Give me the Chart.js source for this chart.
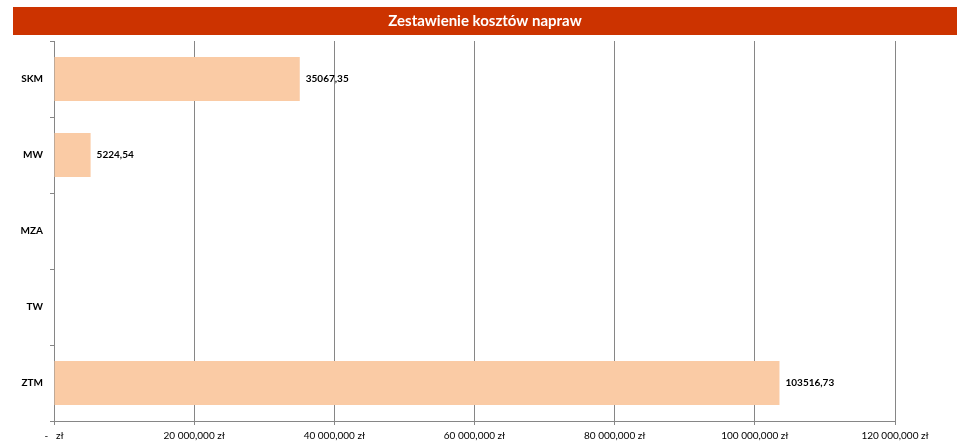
<!DOCTYPE html>
<html>
<head>
<meta charset="utf-8">
<script src="https://cdn.jsdelivr.net/npm/chart.js@4"></script>
<style>
  html, body { margin: 0; padding: 0; background: #fff; }
  #wrap { width: 957px; height: 442px; }
</style>
</head>
<body>
<div id="wrap"><canvas id="koszty"></canvas></div>
<script>
const categories = ['SKM', 'MW', 'MZA', 'TW', 'ZTM'];
const costs = [35067.35, 5224.54, 0, 0, 103516.73];
const xTicks = [0, 20000, 40000, 60000, 80000, 100000, 120000];

const font = 'Lato, "Liberation Sans", sans-serif';

const fmtTick = v => {
    if (v === 0) return '-   zł';
    return String(Math.round(v)).replace(/\B(?=(\d{3})+(?!\d))/g, ' ') + ',000 zł';
};

// red band behind the title, title centred on the band
const titleBand = {
    id: 'titleBand',
    beforeDraw(chart) {
        const tb = chart.titleBlock;
        tb.left = 13;
        tb.right = chart.width;
        const ctx = chart.ctx;
        ctx.save();
        ctx.fillStyle = '#CC3300';
        ctx.fillRect(13, tb.top + 7, chart.width - 13, 28);
        ctx.restore();
    }
};

const valueLabels = {
    id: 'valueLabels',
    afterDatasetsDraw(chart) {
        const ctx = chart.ctx;
        const meta = chart.getDatasetMeta(0);
        ctx.save();
        ctx.font = 'bold 10px ' + font;
        ctx.fillStyle = '#000';
        ctx.textAlign = 'left';
        ctx.textBaseline = 'middle';
        meta.data.forEach((bar, i) => {
            const v = costs[i];
            if (!v) return;
            ctx.fillText(v.toFixed(2).replace('.', ','), bar.x + 6, bar.y);
        });
        ctx.restore();
    }
};

new Chart(document.getElementById('koszty'), {
    type: 'bar',
    data: {
        labels: categories,
        datasets: [{
            data: costs,
            backgroundColor: '#FACBA5',
            borderWidth: 0,
            barPercentage: 0.58,
            categoryPercentage: 1
        }]
    },
    options: {
        indexAxis: 'y',
        responsive: true,
        maintainAspectRatio: false,
        animation: false,
        layout: { padding: { top: 0, left: 0, right: 62, bottom: 0 } },
        plugins: {
            legend: { display: false },
            tooltip: { enabled: false },
            title: {
                display: true,
                text: 'Zestawienie kosztów napraw',
                color: '#fff',
                font: { family: font, size: 15, weight: 'bold', lineHeight: 1 },
                padding: { top: 13.5, bottom: 12.5 }
            }
        },
        scales: {
            x: {
                min: 0,
                max: 120000,
                afterBuildTicks: scale => { scale.ticks = xTicks.map(v => ({ value: v })); },
                afterFit: scale => { scale.height = 21; },
                grid: { color: '#868686', tickLength: 4, drawTicks: true },
                border: { color: '#868686' },
                ticks: {
                    callback: v => fmtTick(v),
                    color: '#000',
                    padding: 5,
                    maxRotation: 0,
                    font: { family: font, size: 10 }
                }
            },
            y: {
                afterFit: scale => { scale.width = 54; },
                grid: { drawOnChartArea: false, offset: true, tickLength: 4, color: '#868686' },
                border: { color: '#868686' },
                ticks: {
                    color: '#000',
                    padding: 7,
                    font: { family: font, size: 10, weight: 'bold' }
                }
            }
        }
    },
    plugins: [titleBand, valueLabels]
});
</script>
</body>
</html>
